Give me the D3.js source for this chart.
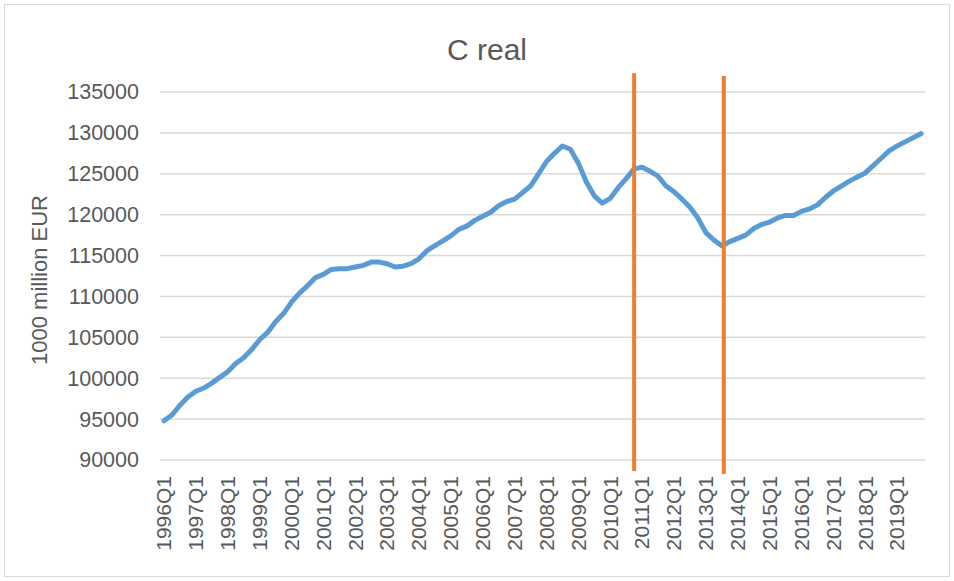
<!DOCTYPE html>
<html>
<head>
<meta charset="utf-8">
<script src="https://cdn.jsdelivr.net/npm/d3@7"></script>
<style>
  body { margin: 0; background: #fff; }
  text { font-family: "Liberation Sans", Arial, sans-serif; fill: #595959; }
</style>
</head>
<body>
<div id="chart"></div>
<script>
// quarterly real consumption, 1996Q1 .. 2019Q4
const years = d3.range(1996, 2020);
const quarters = years.flatMap(y => [1, 2, 3, 4].map(q => `${y}Q${q}`));
const values = [
  94800, 95500, 96700, 97700,
  98400, 98800, 99400, 100100,
  100800, 101800, 102500, 103500,
  104700, 105600, 106900, 107900,
  109300, 110400, 111300, 112300,
  112700, 113300, 113400, 113400,
  113600, 113800, 114200, 114200,
  114000, 113600, 113700, 114000,
  114600, 115600, 116200, 116800,
  117400, 118200, 118600, 119300,
  119800, 120300, 121100, 121600,
  121900, 122700, 123500, 125000,
  126500, 127500, 128400, 128000,
  126300, 124000, 122300, 121400,
  122000, 123300, 124400, 125600,
  125800, 125300, 124700, 123500,
  122800, 121900, 120900, 119600,
  117800, 116900, 116200, 116700,
  117100, 117500, 118300, 118800,
  119100, 119600, 119900, 119900,
  120400, 120700, 121200, 122100,
  122900, 123500, 124100, 124600,
  125100, 126000, 126900, 127800,
  128400, 128900, 129400, 129900
];
const yTicks = d3.range(90000, 135001, 5000);
const xTickLabels = quarters.filter(q => q.endsWith("Q1"));
// orange markers: quarter (+ fraction of a quarter), top value, bottom value
const markers = [
  { q: "2010Q4", frac: 0, top: 137300, bottom: 88650 },
  { q: "2013Q3", frac: 0.25, top: 136950, bottom: 88300 }
];

const width = 954, height = 581;
const m = { left: 160, right: 29, top: 92, bottom: 121 };

const svg = d3.select("#chart").append("svg")
  .attr("width", width).attr("height", height);

svg.append("rect")
  .attr("x", 4.5).attr("y", 4.5)
  .attr("width", width - 9).attr("height", height - 9)
  .attr("fill", "none").attr("stroke", "#d9d9d9");

const x = d3.scaleBand().domain(quarters).range([m.left, width - m.right]);
const xc = q => x(q) + x.bandwidth() / 2;
const y = d3.scaleLinear().domain([90000, 135000]).range([height - m.bottom, m.top]);

// gridlines
svg.append("g").selectAll("line").data(yTicks).enter().append("line")
  .attr("x1", m.left).attr("x2", width - m.right)
  .attr("y1", d => y(d)).attr("y2", d => y(d))
  .attr("stroke", "#d9d9d9").attr("stroke-width", 1.5);

// y axis labels
const yAxis = svg.append("g")
  .attr("transform", `translate(${m.left - 21},0)`)
  .call(d3.axisLeft(y).tickValues(yTicks).tickSize(0).tickPadding(0).tickFormat(d3.format("d")));
yAxis.select(".domain").remove();
yAxis.selectAll("text").style("font-size", "21.5px").attr("fill", "#595959");

// x axis labels
const xAxis = svg.append("g")
  .attr("transform", `translate(0,${height - m.bottom})`)
  .call(d3.axisBottom(x).tickValues(xTickLabels).tickSize(0));
xAxis.select(".domain").remove();
xAxis.selectAll("text")
  .style("font-size", "21px").attr("fill", "#595959")
  .attr("text-anchor", "end")
  .attr("transform", "rotate(-90)")
  .attr("x", -16).attr("y", 0).attr("dy", "0.35em");

// title + axis title
svg.append("text").attr("x", 487).attr("y", 60)
  .attr("text-anchor", "middle").style("font-size", "30px").text("C real");
svg.append("text")
  .attr("transform", `translate(47,${(y(90000) + y(135000)) / 2 + 4}) rotate(-90)`)
  .attr("text-anchor", "middle").style("font-size", "22px").text("1000 million EUR");

// series
const line = d3.line().x((d, i) => xc(quarters[i])).y(d => y(d));
svg.append("path").datum(values)
  .attr("d", line).attr("fill", "none")
  .attr("stroke", "#5B9BD5").attr("stroke-width", 5)
  .attr("stroke-linejoin", "round").attr("stroke-linecap", "round");

// vertical markers
const mx = d => xc(d.q) + d.frac * x.step();
svg.append("g").selectAll("line").data(markers).enter().append("line")
  .attr("x1", mx).attr("x2", mx)
  .attr("y1", d => y(d.top)).attr("y2", d => y(d.bottom))
  .attr("stroke", "#ED7D31").attr("stroke-width", 4);
</script>
</body>
</html>
